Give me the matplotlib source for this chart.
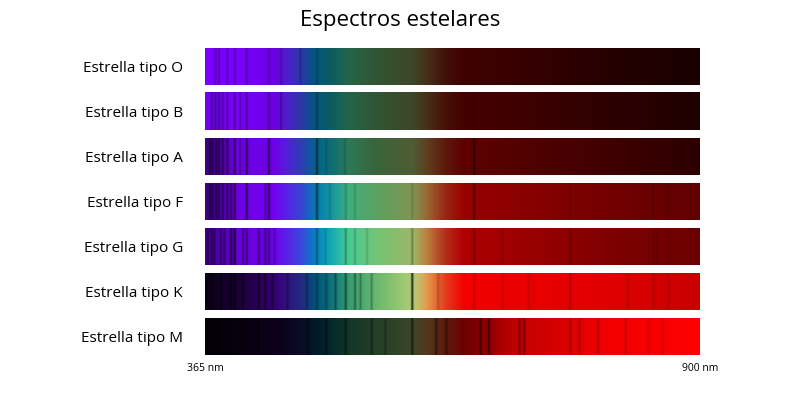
import numpy as np
import matplotlib
matplotlib.use("Agg")
import matplotlib.pyplot as plt
from matplotlib.colors import to_rgb

plt.rcParams['font.family'] = ['Open Sans', 'DejaVu Sans']

stars = ["Estrella tipo O", "Estrella tipo B", "Estrella tipo A", "Estrella tipo F",
         "Estrella tipo G", "Estrella tipo K", "Estrella tipo M"]
wl_min, wl_max = 365, 900

hue_wl = [365, 440, 470, 485, 505, 520, 560, 590, 605, 625, 645, 900]
hue_col = ["#7a00ff", "#7a00ff", "#3a50e8", "#0090d0", "#20c0c0", "#50e0a0",
           "#90e080", "#c0e080", "#f0a050", "#f04020", "#ff0000", "#ff0000"]

bright_wl = [365, 400, 450, 500, 550, 600, 650, 700, 800, 900]
brightness = {
    "Estrella tipo O": [1.0, 1.0, 0.85, 0.5, 0.38, 0.3, 0.25, 0.22, 0.15, 0.1],
    "Estrella tipo B": [0.95, 1.0, 0.85, 0.5, 0.38, 0.3, 0.27, 0.25, 0.18, 0.12],
    "Estrella tipo A": [0.5, 0.9, 0.9, 0.6, 0.45, 0.4, 0.37, 0.33, 0.25, 0.17],
    "Estrella tipo F": [0.5, 0.9, 0.95, 0.82, 0.72, 0.65, 0.6, 0.55, 0.45, 0.38],
    "Estrella tipo G": [0.55, 0.85, 0.95, 0.92, 0.88, 0.8, 0.68, 0.62, 0.5, 0.42],
    "Estrella tipo K": [0.08, 0.22, 0.5, 0.62, 0.82, 0.95, 0.95, 0.92, 0.88, 0.78],
    "Estrella tipo M": [0.02, 0.05, 0.12, 0.22, 0.28, 0.33, 0.45, 0.75, 0.95, 1.0],
}

# absorption lines: (wavelength nm, depth)
lines = {
    "Estrella tipo O": [(376, 0.3), (380, 0.3), (389, 0.3), (397, 0.3), (410, 0.3), (434, 0.2), (447, 0.2), (468, 0.2), (486, 0.2)],
    "Estrella tipo B": [(372, 0.4), (376, 0.4), (380, 0.4), (384, 0.3), (389, 0.4), (397, 0.4), (403, 0.3), (410, 0.4), (434, 0.3), (447, 0.3), (486, 0.3), (656, 0.15)],
    "Estrella tipo A": [(370, 0.5), (373, 0.5), (377, 0.5), (380, 0.5), (384, 0.5), (389, 0.6), (397, 0.6), (403, 0.3), (410, 0.6), (434, 0.6), (486, 0.6), (496, 0.15), (516, 0.15), (656, 0.5)],
    "Estrella tipo F": [(370, 0.5), (373, 0.5), (377, 0.5), (380, 0.5), (384, 0.5), (389, 0.6), (393, 0.5), (397, 0.6), (410, 0.6), (430, 0.3), (434, 0.6), (486, 0.6), (500, 0.15), (517, 0.2), (527, 0.15), (589, 0.15), (656, 0.5), (760, 0.15), (850, 0.15), (866, 0.15)],
    "Estrella tipo G": [(368, 0.4), (372, 0.5), (375, 0.4), (382, 0.5), (386, 0.4), (393, 0.7), (397, 0.7), (406, 0.4), (410, 0.4), (423, 0.4), (430, 0.5), (434, 0.4), (440, 0.3), (486, 0.35), (495, 0.15), (517, 0.3), (527, 0.2), (540, 0.15), (589, 0.3), (656, 0.3), (687, 0.15), (760, 0.2), (850, 0.15), (854, 0.15), (866, 0.15)],
    "Estrella tipo K": [(372, 0.5), (382, 0.5), (393, 0.7), (397, 0.7), (406, 0.5), (423, 0.6), (430, 0.6), (438, 0.4), (454, 0.3), (475, 0.3), (486, 0.3), (496, 0.3), (506, 0.4), (517, 0.5), (527, 0.4), (533, 0.3), (545, 0.3), (589, 0.8), (617, 0.2), (656, 0.15), (687, 0.15), (715, 0.15), (760, 0.2), (822, 0.15), (850, 0.15), (866, 0.15)],
    "Estrella tipo M": [(393, 0.5), (423, 0.6), (448, 0.4), (476, 0.5), (496, 0.5), (517, 0.5), (545, 0.4), (560, 0.3), (589, 0.6), (615, 0.5), (626, 0.4), (663, 0.5), (672, 0.6), (705, 0.4), (710, 0.4), (760, 0.3), (770, 0.25), (790, 0.2), (820, 0.2), (845, 0.15), (860, 0.15)],
}

wl = np.linspace(wl_min, wl_max, 1200)
hue_rgb = np.array([to_rgb(c) for c in hue_col])
base = np.stack([np.interp(wl, hue_wl, hue_rgb[:, k]) for k in range(3)], axis=1)

fig = plt.figure(figsize=(8, 4), dpi=100)
ax = fig.add_axes([205 / 800, 1 - 355 / 400, 495 / 800, 307 / 400])
half = 37 / 90
n = len(stars)
for i, s in enumerate(stars):
    y = n - 1 - i
    b = np.interp(wl, bright_wl, brightness[s])
    absorb = np.ones_like(wl)
    for lw, d in lines[s]:
        absorb *= 1 - d * np.exp(-0.5 * ((wl - lw) / 0.9) ** 2)
    rgb = np.clip(base * (b * absorb)[:, None], 0, 1)
    img = np.repeat(rgb[None, :, :], 2, axis=0)
    ax.imshow(img, extent=[wl_min, wl_max, y - half, y + half], aspect='auto', interpolation='bilinear')

ax.set_xlim(wl_min, wl_max)
ax.set_ylim(-half, n - 1 + half)
ax.set_yticks(range(n))
ax.set_yticklabels(stars[::-1], fontsize=11)
ax.set_xticks([wl_min, wl_max])
ax.set_xticklabels([f"{wl_min} nm", f"{wl_max} nm"], fontsize=7.5)
ax.tick_params(length=0, pad=6)
ax.tick_params(axis='y', pad=16)
for sp in ax.spines.values():
    sp.set_visible(False)
fig.suptitle("Espectros estelares", fontsize=16, y=0.975)
fig.savefig("out.png", dpi=100)
